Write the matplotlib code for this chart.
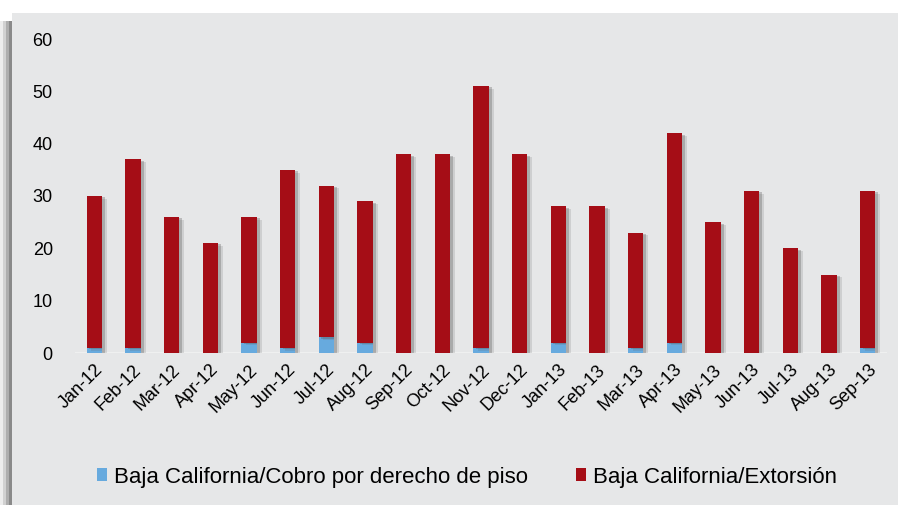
import numpy as np
import matplotlib
matplotlib.use("Agg")
import matplotlib.pyplot as plt
from matplotlib.patches import Rectangle
import matplotlib.patheffects as pe

# === Data ===
months = ["Jan-12", "Feb-12", "Mar-12", "Apr-12", "May-12", "Jun-12", "Jul-12",
          "Aug-12", "Sep-12", "Oct-12", "Nov-12", "Dec-12", "Jan-13", "Feb-13",
          "Mar-13", "Apr-13", "May-13", "Jun-13", "Jul-13", "Aug-13", "Sep-13"]
cobro_piso = [1, 1, 0, 0, 2, 1, 3, 2, 0, 0, 1, 0, 2, 0, 1, 2, 0, 0, 0, 0, 1]
extorsion = [29, 36, 26, 21, 24, 34, 29, 27, 38, 38, 50, 38, 26, 28, 22, 40, 25, 31, 20, 15, 30]

label_cobro = "Baja California/Cobro por derecho de piso"
label_ext = "Baja California/Extorsión"

bg = "#e6e7e8"
red = "#a50d16"
blue = "#67aade"

plt.rcParams['font.family'] = ['Liberation Sans', 'DejaVu Sans']

fig = plt.figure(figsize=(8.98, 5.05), dpi=100, facecolor="white")

# gray panel with a soft shadow on the left
top = 1 - 13 / 505
for i, a in enumerate([0.10, 0.18, 0.28, 0.40]):
    fig.patches.append(Rectangle(((i * 3) / 898, 0), 12 / 898, top - 0.015,
                                 transform=fig.transFigure, facecolor="#555555",
                                 alpha=a, edgecolor="none", zorder=-3))
fig.patches.append(Rectangle((12 / 898, 0), 1, top, transform=fig.transFigure,
                             facecolor=bg, edgecolor="none", zorder=-2))

ax = fig.add_axes([75 / 898, 1 - 353 / 505, (887 - 75) / 898, (353 - 39) / 505])
ax.set_zorder(2)
ax.set_facecolor(bg)

x = np.arange(len(months))
w = 0.4
# soft drop shadow like the original
shadow = [pe.SimplePatchShadow(offset=(3.5, -2), shadow_rgbFace="#666666", alpha=0.18),
          pe.SimplePatchShadow(offset=(2, -1), shadow_rgbFace="#555555", alpha=0.3),
          pe.Normal()]
b1 = ax.bar(x, cobro_piso, w, color=blue, label=label_cobro, zorder=3)
b2 = ax.bar(x, extorsion, w, bottom=cobro_piso, color=red, label=label_ext, zorder=3)
for bar in list(b1) + list(b2):
    bar.set_path_effects(shadow)

ax.axhline(0, color="#f2f2f2", lw=1.2, zorder=2)

ax.set_xlim(-0.5, len(months) - 0.5)
ax.set_ylim(0, 60)
ax.set_yticks(range(0, 61, 10))
ax.set_xticks(x)
ax.set_xticklabels(months, rotation=45, ha="right", rotation_mode="anchor")
ax.tick_params(axis="y", length=0, pad=16, labelsize=13)
ax.tick_params(axis="x", length=0, pad=6, labelsize=13)
for s in ax.spines.values():
    s.set_visible(False)

leg = fig.legend(handles=[b1, b2], loc="center", bbox_to_anchor=(0.52, 1 - 477 / 505),
                 ncol=2, frameon=False, fontsize=16, handlelength=0.45, handleheight=0.55,
                 handletextpad=0.3, columnspacing=2.2)
for h in leg.legend_handles:
    h.set_path_effects([])

fig.savefig("out.png", dpi=100, facecolor=fig.get_facecolor())
